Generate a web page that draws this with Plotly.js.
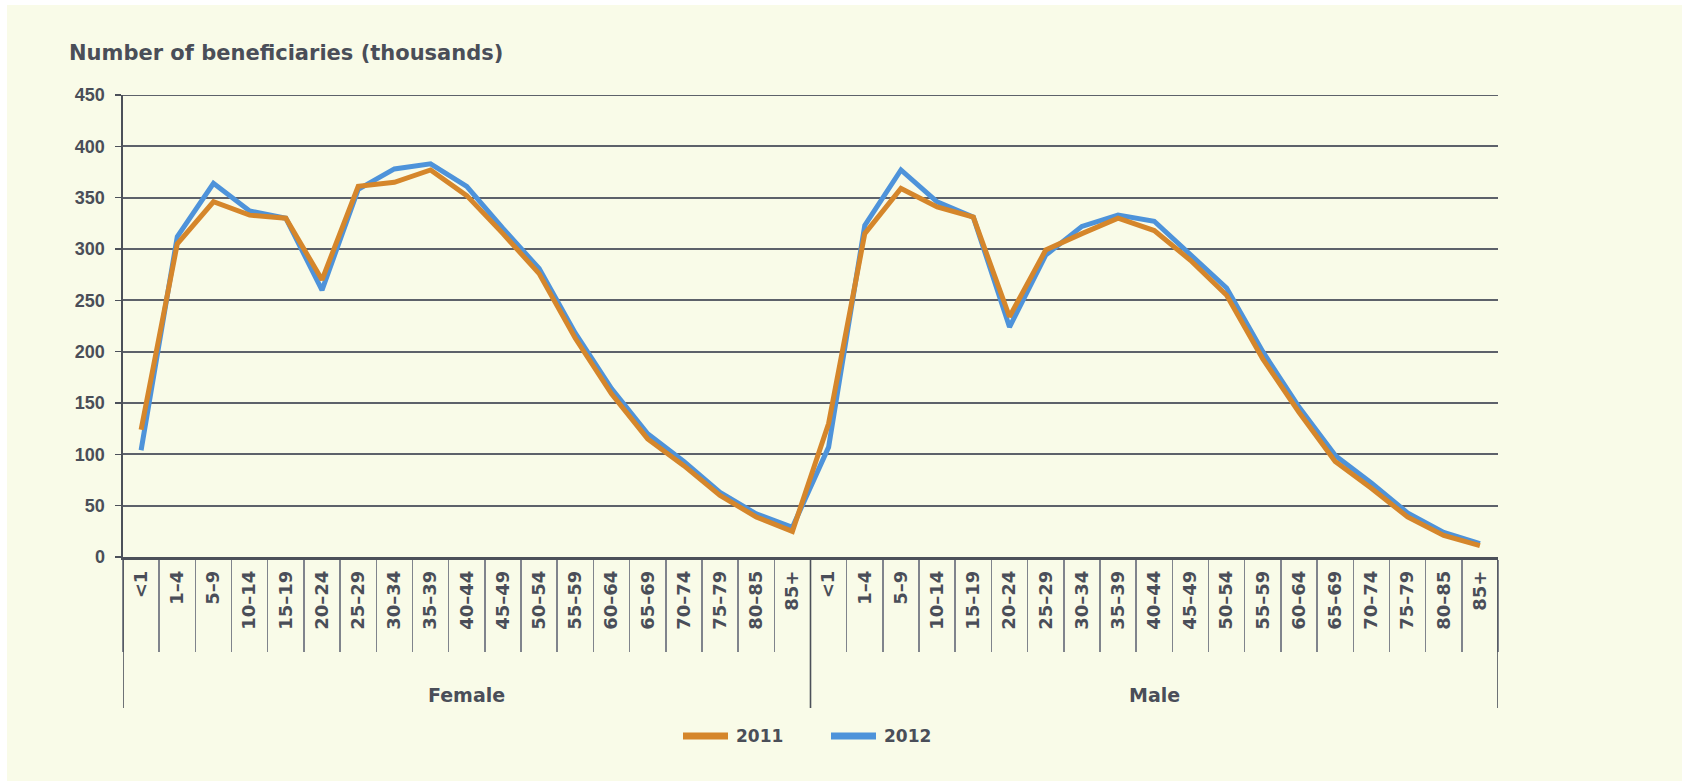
<!DOCTYPE html>
<html>
<head>
<meta charset="utf-8">
<script src="https://cdn.plot.ly/plotly-3.0.1.min.js"></script>
<style>
  html, body { margin: 0; padding: 0; background: #ffffff; }
  #chart { position: absolute; left: 7px; top: 5px; width: 1675px; height: 776px; }
</style>
</head>
<body>
<div id="chart"></div>
<script>
// ---- data (thousands of beneficiaries) ----
const sexes = ['Female', 'Male'];
const ageGroups = ['<1', '1–4', '5–9', '10–14', '15–19', '20–24', '25–29', '30–34', '35–39',
  '40–44', '45–49', '50–54', '55–59', '60–64', '65–69', '70–74', '75–79', '80–85', '85+'];
const female2011 = [124, 305, 346, 333, 330, 270, 361, 365, 377, 352, 315, 276, 213, 159, 115, 89, 60, 39, 25];
const female2012 = [104, 312, 364, 337, 330, 260, 358, 378, 383, 361, 320, 281, 218, 164, 120, 93, 63, 42, 29];
const male2011   = [130, 315, 359, 341, 331, 234, 299, 315, 330, 318, 289, 255, 193, 141, 93, 67, 39, 21, 11];
const male2012   = [107, 323, 377, 346, 331, 224, 294, 322, 333, 327, 294, 262, 200, 146, 99, 72, 43, 24, 13];
const yearNames = ['2011', '2012'];
const yearColors = ['#d5862b', '#4e93da'];
const yTicks = [0, 50, 100, 150, 200, 250, 300, 350, 400, 450];

// ---- build x positions (one slot per sex × age group) ----
const nAge = ageGroups.length;
const xIdx = [];
const xText = [];
sexes.forEach((s, si) => ageGroups.forEach((a, ai) => { xIdx.push(si * nAge + ai); xText.push(a); }));
const y2011 = female2011.concat(male2011);
const y2012 = female2012.concat(male2012);
const boundaries = [];
for (let i = 0; i <= xIdx.length; i++) boundaries.push(i - 0.5);

const textColor = '#4a4e58';
const fontFam = '"DejaVu Sans", "Liberation Sans", sans-serif';
const numFam = '"Liberation Sans", Arial, sans-serif';
const plotW = 1375, plotH = 462; // plot area size in px, used to place items under the axis

const traces = [
  { type: 'scatter', mode: 'lines', name: yearNames[1], x: xIdx, y: y2012,
    line: { color: yearColors[1], width: 5 } },
  { type: 'scatter', mode: 'lines', name: yearNames[0], x: xIdx, y: y2011,
    line: { color: yearColors[0], width: 5 } }
];

const shapes = [];
const annotations = [];
// group labels and dividers
sexes.forEach((s, si) => {
  annotations.push({ xref: 'x', yref: 'paper', x: si * nAge + (nAge - 1) / 2, y: -(138 / plotH),
    yanchor: 'middle', xanchor: 'center', showarrow: false, text: '<b>' + s + '</b>',
    font: { family: fontFam, size: 19, color: textColor } });
});
for (let si = 0; si <= sexes.length; si++) {
  shapes.push({ type: 'line', xref: 'x', yref: 'paper', x0: si * nAge - 0.5, x1: si * nAge - 0.5,
    y0: 0, y1: -(151 / plotH), line: { color: '#4c5059', width: 1.6 } });
}
// top gridline at the range edge
shapes.push({ type: 'line', xref: 'paper', yref: 'y', x0: 0, x1: 1, y0: yTicks[yTicks.length - 1],
  y1: yTicks[yTicks.length - 1], line: { color: '#5d616a', width: 2 } });

// legend (drawn as line swatches + labels below the chart)
const legY = -(179 / plotH);
const legStarts = [560, 708]; // px from plot left
yearNames.forEach((nm, k) => {
  const x0 = legStarts[k] / plotW, x1 = (legStarts[k] + 45) / plotW;
  shapes.push({ type: 'line', xref: 'paper', yref: 'paper', x0: x0, x1: x1, y0: legY, y1: legY,
    line: { color: yearColors[k], width: 7 } });
  annotations.push({ xref: 'paper', yref: 'paper', x: (legStarts[k] + 51) / plotW, y: legY,
    xanchor: 'left', yanchor: 'middle', showarrow: false, text: '<b>' + nm + '</b>',
    font: { family: fontFam, size: 17, color: textColor } });
});

const layout = {
  width: 1675, height: 776,
  margin: { l: 116, r: 184, t: 90, b: 224 },
  paper_bgcolor: '#f9fbe8',
  plot_bgcolor: '#f9fbe8',
  font: { family: fontFam, color: textColor, size: 15, weight: 'bold' },
  title: { text: '<b>Number of beneficiaries (thousands)</b>', xref: 'container', yref: 'container',
    x: 0.037, xanchor: 'left', y: 0.938, yanchor: 'middle',
    font: { family: fontFam, size: 21, color: textColor } },
  showlegend: false,
  shapes: shapes,
  annotations: annotations,
  xaxis: {
    type: 'linear',
    range: [-0.5, xIdx.length - 0.5],
    tickmode: 'array', tickvals: xIdx, ticktext: xText,
    showgrid: false,
    showline: true, linecolor: '#4c5059', linewidth: 2.5,
    ticks: '',
    tickangle: -90,
    ticklabelstandoff: 4,
    tickfont: { family: fontFam, size: 18, color: textColor, weight: 'bold' },
    minor: { tickmode: 'array', tickvals: boundaries, ticks: 'outside', ticklen: 92,
      tickcolor: '#80848c', tickwidth: 1.5, showgrid: false },
    zeroline: false, fixedrange: true
  },
  yaxis: {
    range: [0, 450], tickvals: yTicks, ticktext: yTicks.map(String),
    showgrid: true, gridcolor: '#5d616a', gridwidth: 2,
    showline: true, linecolor: '#4c5059', linewidth: 2.5,
    ticks: 'outside', ticklen: 6, tickcolor: '#4c5059', tickwidth: 1.5,
    ticklabelstandoff: 6,
    tickfont: { family: numFam, size: 18, color: textColor, weight: 'bold' },
    zeroline: false, fixedrange: true
  }
};

Plotly.newPlot('chart', traces, layout, { displayModeBar: false, staticPlot: true });
</script>
</body>
</html>
